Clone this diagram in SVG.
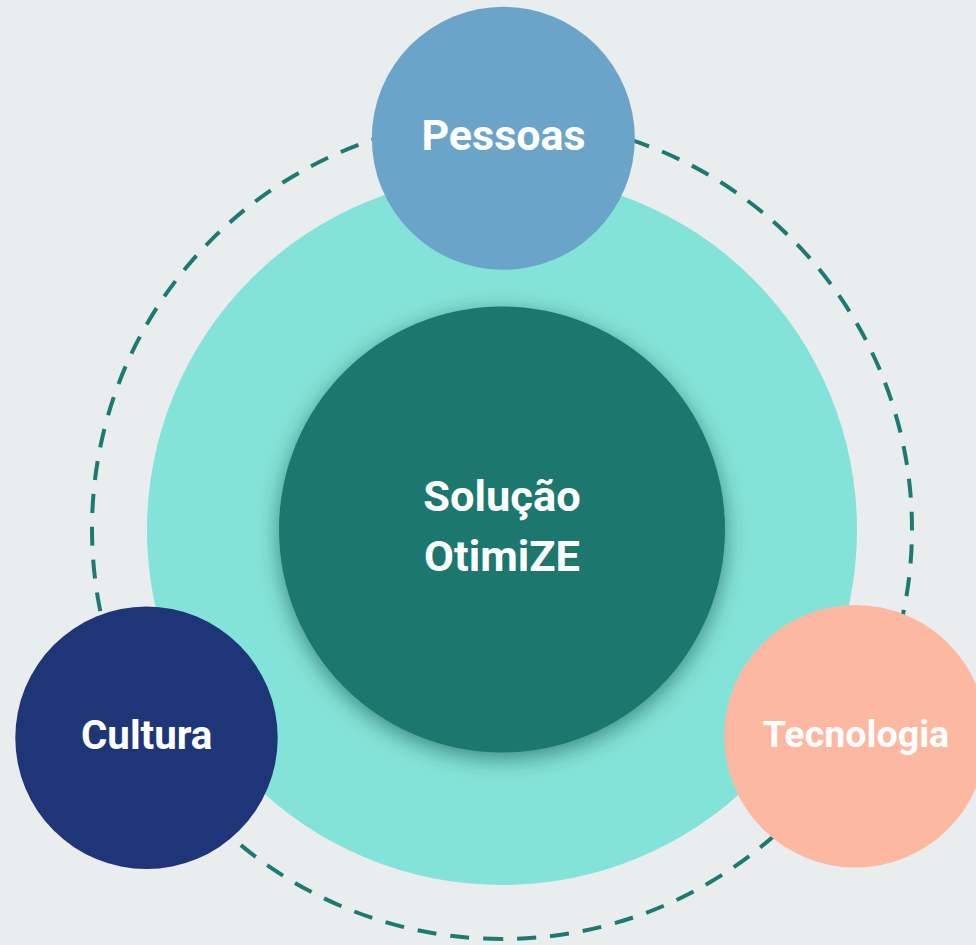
<svg xmlns="http://www.w3.org/2000/svg" width="976" height="945" viewBox="0 0 976 945">
  <defs>
    <filter id="shadow" x="-30%" y="-30%" width="160%" height="160%">
      <feGaussianBlur in="SourceAlpha" stdDeviation="11"/>
      <feOffset dx="0" dy="6" result="b"/>
      <feFlood flood-color="#0d3f39" flood-opacity="0.55"/>
      <feComposite in2="b" operator="in" result="s"/>
      <feMerge>
        <feMergeNode in="s"/>
        <feMergeNode in="SourceGraphic"/>
      </feMerge>
    </filter>
  </defs>
  <style>
    .lbl { font-family: Roboto, "Liberation Sans", sans-serif; font-weight: 700; font-size: 42px; fill: #ffffff; text-anchor: middle; }
    .ring { fill: none; stroke: #1b7b6e; stroke-width: 4; stroke-dasharray: 19 14; }
  </style>
  <rect x="0" y="0" width="976" height="945" fill="#e9edee"/>
  <g id="connectors">
    <path class="ring" d="M 502 939 A 410 410 0 1 1 502 119 A 410 410 0 1 1 502 939"/>
  </g>
  <g id="outer">
    <circle cx="502" cy="530" r="355" fill="#84e3d8"/>
  </g>
  <g id="center">
    <circle cx="502" cy="529.5" r="223" fill="#1b786e" filter="url(#shadow)"/>
    <text class="lbl" x="502" y="511" style="font-size:43.4px">Solução</text>
    <text class="lbl" x="502" y="571" style="font-size:43.4px">OtimiZE</text>
  </g>
  <g id="pessoas">
    <circle cx="503.3" cy="138.3" r="131.5" fill="#6aa5c9"/>
    <text class="lbl" x="503.5" y="150" style="font-size:43px">Pessoas</text>
  </g>
  <g id="cultura">
    <circle cx="146.5" cy="737.8" r="131.2" fill="#1e3677"/>
    <text class="lbl" x="146.7" y="749" style="font-size:40.3px">Cultura</text>
  </g>
  <g id="tecnologia">
    <circle cx="855.5" cy="736.2" r="131.2" fill="#fdb8a2"/>
    <text class="lbl" x="856" y="747" style="font-size:37.6px">Tecnologia</text>
  </g>
</svg>
